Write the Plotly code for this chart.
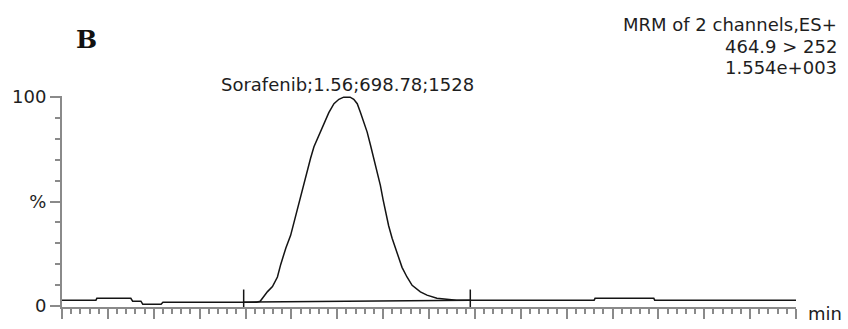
import plotly.graph_objects as go

# MRM chromatogram, channel 464.9 > 252 (Sorafenib)
time_min = [
    0.000, 0.185, 0.190, 0.375, 0.385, 0.430, 0.440, 0.540, 0.550, 1.060,
    1.080, 1.092, 1.120, 1.147, 1.174, 1.192, 1.220, 1.246, 1.264, 1.283,
    1.301, 1.318, 1.337, 1.355, 1.373, 1.400, 1.427, 1.454, 1.482, 1.509,
    1.535, 1.554, 1.570, 1.590, 1.609, 1.627, 1.645, 1.663, 1.681, 1.699,
    1.717, 1.735, 1.750, 1.763, 1.780, 1.799, 1.817, 1.835, 1.853, 1.880,
    1.908, 1.953, 1.989, 2.043, 2.098, 2.150, 2.900, 2.905, 3.225, 3.230,
    4.000,
]
intensity_pct = [
    2.8, 2.8, 3.7, 3.7, 2.3, 2.3, 0.9, 0.9, 1.85, 1.85,
    2.3, 3.7, 6.9, 9.3, 13.9, 19.9, 27.8, 33.8, 40.0, 46.2,
    53.1, 59.3, 64.7, 70.8, 76.2, 81.6, 87.0, 92.5, 96.8, 98.9,
    99.9, 100.0, 99.9, 98.9, 96.8, 92.5, 87.8, 83.2, 77.0, 70.8,
    64.7, 57.7, 50.8, 44.6, 38.4, 32.4, 27.8, 23.1, 18.5, 13.9,
    9.9, 6.8, 5.2, 3.7, 3.2, 2.8, 2.8, 3.7, 3.7, 2.8,
    2.8,
]

# integration limits and the baseline drawn between them
integ_start, integ_end = 0.99, 2.225
integ_base = [1.85, 2.8]
limit_marker_top = 7.9

y_tick_vals = [0, 50, 100]
y_tick_text = ["0", "%", "100"]

peak_label = "Sorafenib;1.56;698.78;1528"
header_lines = ["MRM of 2 channels,ES+", "464.9 > 252", "1.554e+003"]

W, H = 848, 329
L, R, T, B = 61, 52, 96, 15
PW, PH = W - L - R, H - T - B
Y_LO, Y_HI = -0.463, 100.463

def px_x(px):
    return (px - L) / PW

def px_y(py):
    return (H - B - py) / PH

ink = "#141414"
axis_gray = "#8a8a8a"
txt_font = dict(family="DejaVu Sans", size=18, color="#1e1e1e")

fig = go.Figure()
fig.add_trace(go.Scatter(x=time_min, y=intensity_pct, mode="lines",
                         line=dict(color=ink, width=1.5), showlegend=False,
                         hoverinfo="skip"))
fig.add_trace(go.Scatter(x=[integ_start, integ_end], y=integ_base, mode="lines",
                         line=dict(color=ink, width=1.5), showlegend=False,
                         hoverinfo="skip"))
for t in (integ_start, integ_end):
    fig.add_trace(go.Scatter(x=[t, t], y=[Y_LO, limit_marker_top], mode="lines",
                             line=dict(color=ink, width=1.5), showlegend=False,
                             hoverinfo="skip"))

annotations = [
    dict(text="<b>B</b>", x=px_x(86), y=px_y(38), xref="paper", yref="paper",
         xanchor="center", yanchor="middle", showarrow=False,
         font=dict(family="DejaVu Serif", size=25, color="#111")),
    dict(text=peak_label, x=1.556, y=px_y(84), xref="x", yref="paper",
         xanchor="center", yanchor="middle", showarrow=False, font=txt_font),
    dict(text="min", x=px_x(806), y=px_y(321), xref="paper", yref="paper",
         xanchor="left", yanchor="middle", showarrow=False, font=txt_font),
]
for line, cy in zip(header_lines, [22, 45, 67]):
    annotations.append(dict(text=line, x=px_x(839), y=px_y(cy), xref="paper",
                            yref="paper", xanchor="right", yanchor="middle",
                            showarrow=False, font=txt_font))

fig.update_layout(
    width=W, height=H,
    margin=dict(l=L, r=R, t=T, b=B, pad=0),
    paper_bgcolor="white", plot_bgcolor="white",
    annotations=annotations,
    xaxis=dict(range=[0, 4.0], showgrid=False, zeroline=False,
               showline=True, linecolor=axis_gray, linewidth=2,
               ticks="outside", tickmode="linear", tick0=0, dtick=0.25,
               ticklen=10, tickwidth=1.5, tickcolor=axis_gray,
               showticklabels=False,
               minor=dict(ticks="outside", tickmode="linear", tick0=0,
                          dtick=0.05, ticklen=5, tickwidth=1.5,
                          tickcolor=axis_gray, showgrid=False)),
    yaxis=dict(range=[Y_LO, Y_HI], showgrid=False, zeroline=False,
               showline=True, linecolor=axis_gray, linewidth=2,
               ticks="outside", tickmode="array", tickvals=y_tick_vals,
               ticktext=y_tick_text, ticklen=10, tickwidth=1.5,
               tickcolor=axis_gray, tickfont=txt_font,
               minor=dict(ticks="outside", tickmode="linear", tick0=0,
                          dtick=10, ticklen=5, tickwidth=1.5,
                          tickcolor=axis_gray, showgrid=False)),
)

fig.write_html("out.html")
